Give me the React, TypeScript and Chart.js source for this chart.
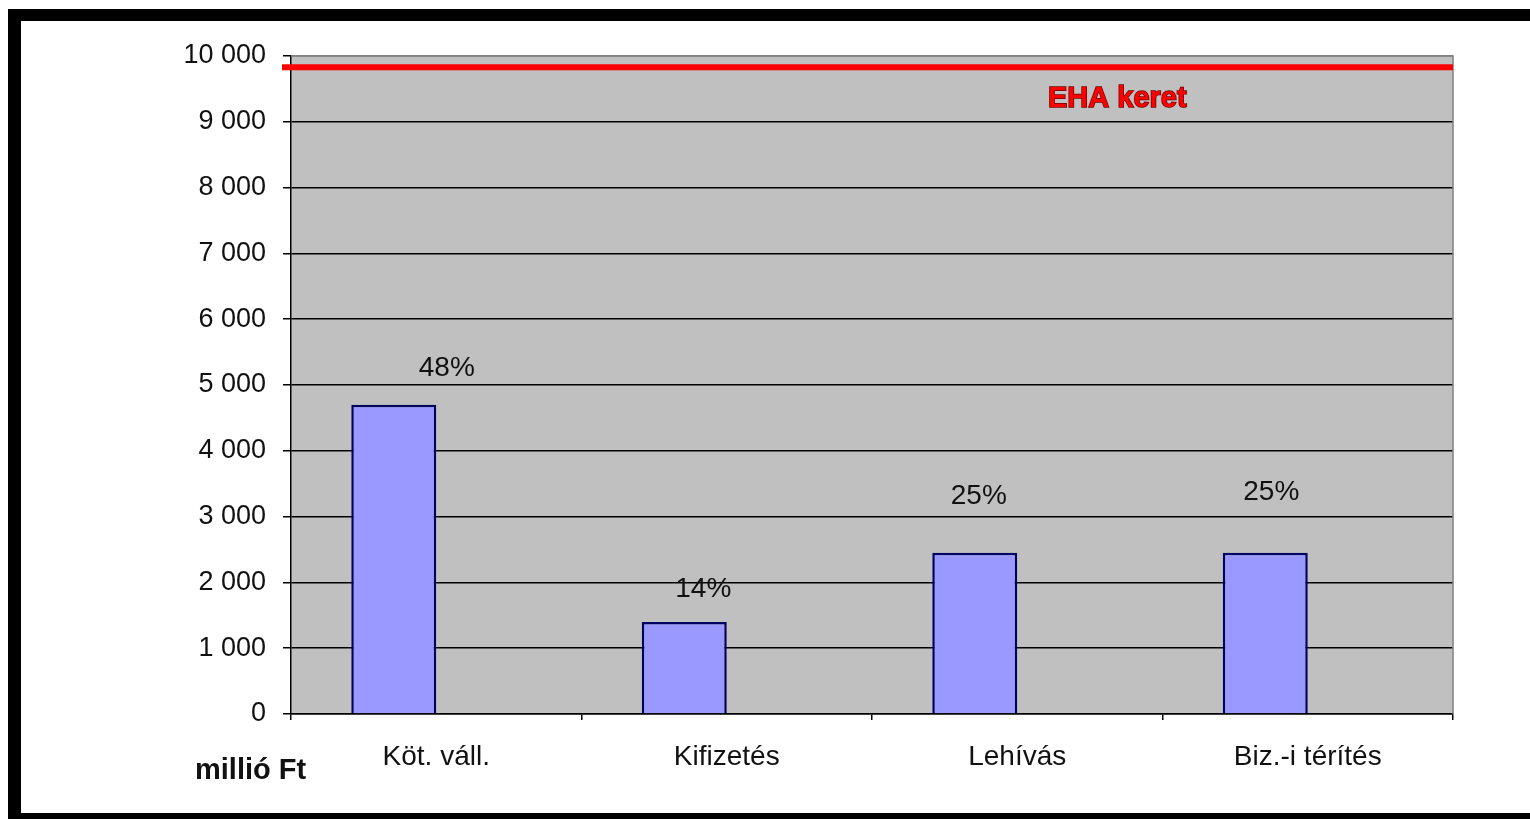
import React, { useEffect, useRef } from 'react';
import { Chart, registerables } from 'chart.js';

Chart.register(...registerables);

// ---- data ----
const CATEGORIES = ['Köt. váll.', 'Kifizetés', 'Lehívás', 'Biz.-i térítés'];
const VALUES = [4700, 1400, 2450, 2450];
const SPACER = [null, null, null, null];
const PERCENT_LABELS = ['48%', '14%', '25%', '25%'];
const EHA_KERET = 9830;
const EHA_LABEL = 'EHA keret';
const UNIT_LABEL = 'millió Ft';
const Y_MIN = 0;
const Y_MAX = 10000;
const Y_STEP = 1000;

// ---- styling ----
const FONT = "'Liberation Sans', Arial, sans-serif";
const LABEL_SHIFT = [
  [53, -36],
  [19, -33],
  [4, -57],
  [6, -61],
];

const fmt = (v: number) => String(v).replace(/\B(?=(\d{3})+(?!\d))/g, ' ');

const decor = {
  id: 'decor',
  beforeDraw(chart: any) {
    const { ctx, chartArea: a } = chart;
    ctx.save();
    ctx.fillStyle = '#C0C0C0';
    ctx.fillRect(a.left, a.top, a.right - a.left, a.bottom - a.top);
    ctx.restore();
  },
  afterDatasetsDraw(chart: any) {
    const { ctx, chartArea: a } = chart;
    const ys = chart.scales.y;
    ctx.save();
    // gray top / right plot border
    ctx.strokeStyle = '#808080';
    ctx.lineWidth = 1.5;
    ctx.beginPath();
    ctx.moveTo(a.left, a.top);
    ctx.lineTo(a.right, a.top);
    ctx.lineTo(a.right, a.bottom);
    ctx.stroke();

    // red limit line
    const yl = ys.getPixelForValue(EHA_KERET);
    ctx.strokeStyle = '#FF0000';
    ctx.lineWidth = 6;
    ctx.beginPath();
    ctx.moveTo(a.left - 9, yl);
    ctx.lineTo(a.right, yl);
    ctx.stroke();

    // EHA keret label
    ctx.font = `bold 29px ${FONT}`;
    ctx.textAlign = 'left';
    ctx.textBaseline = 'middle';
    ctx.lineWidth = 1.5;
    ctx.strokeStyle = '#700000';
    ctx.strokeText(EHA_LABEL, a.left + 757, yl + 32);
    ctx.fillStyle = '#FF0000';
    ctx.fillText(EHA_LABEL, a.left + 757, yl + 32);

    // percent labels
    const meta = chart.getDatasetMeta(0);
    ctx.font = `28px ${FONT}`;
    ctx.textAlign = 'center';
    ctx.fillStyle = '#111';
    meta.data.forEach((bar: any, i: number) => {
      const [dx, dy] = LABEL_SHIFT[i];
      ctx.fillText(PERCENT_LABELS[i], bar.x + dx, bar.y + dy);
    });

    // unit label
    ctx.font = `bold 29px ${FONT}`;
    ctx.textAlign = 'left';
    ctx.fillStyle = '#111';
    ctx.fillText(UNIT_LABEL, a.left - 96, a.bottom + 57);
    ctx.restore();
  },
};

export default function App() {
  const ref = useRef<HTMLCanvasElement>(null);

  useEffect(() => {
    if (!ref.current) return;
    const chart = new Chart(ref.current, {
      type: 'bar',
      data: {
        labels: CATEGORIES,
        datasets: [
          {
            label: 'Érték',
            data: VALUES,
            backgroundColor: '#9999FF',
            borderColor: '#000060',
            borderWidth: 2.5,
            categoryPercentage: 0.585,
            barPercentage: 1,
          },
          {
            label: EHA_LABEL,
            data: SPACER as any,
            backgroundColor: 'transparent',
            categoryPercentage: 0.585,
            barPercentage: 1,
          },
        ],
      },
      options: {
        responsive: false,
        animation: false,
        devicePixelRatio: 1,
        layout: { padding: { top: 35, right: 77, left: 0, bottom: 0 } },
        plugins: {
          legend: { display: false },
          tooltip: { enabled: false },
        },
        scales: {
          x: {
            afterFit: (s: any) => {
              s.height = 99;
            },
            grid: {
              display: true,
              drawOnChartArea: false,
              drawTicks: true,
              tickLength: 6,
              color: '#000',
              lineWidth: 1.5,
              offset: true,
            },
            border: { display: true, color: '#000', width: 1.5 },
            ticks: {
              font: { family: FONT, size: 28 },
              color: '#111',
              padding: 20,
              maxRotation: 0,
            },
          },
          y: {
            min: Y_MIN,
            max: Y_MAX,
            afterFit: (s: any) => {
              s.width = 270;
            },
            grid: {
              color: (c: any) => (c.tick && c.tick.value === Y_MAX ? '#808080' : '#000'),
              tickColor: '#000',
              lineWidth: 1.5,
              tickLength: 8,
              drawTicks: true,
            },
            border: { display: true, color: '#000', width: 1.5 },
            ticks: {
              stepSize: Y_STEP,
              font: { family: FONT, size: 27 },
              color: '#111',
              padding: 17,
              callback: (v: any) => fmt(Number(v)),
            },
          },
        },
      },
      plugins: [decor],
    });
    return () => chart.destroy();
  }, []);

  return (
    <div style={{ position: 'absolute', left: 0, top: 0, width: 1530, height: 819, background: '#fff', overflow: 'hidden' }}>
      <div style={{ position: 'absolute', left: 8, top: 9, right: 0, bottom: 0, background: '#000' }} />
      <div style={{ position: 'absolute', left: 21, top: 21, width: 1509, height: 792, background: '#fff' }}>
        <canvas ref={ref} width={1509} height={792} style={{ display: 'block', width: 1509, height: 792 }} />
      </div>
    </div>
  );
}
